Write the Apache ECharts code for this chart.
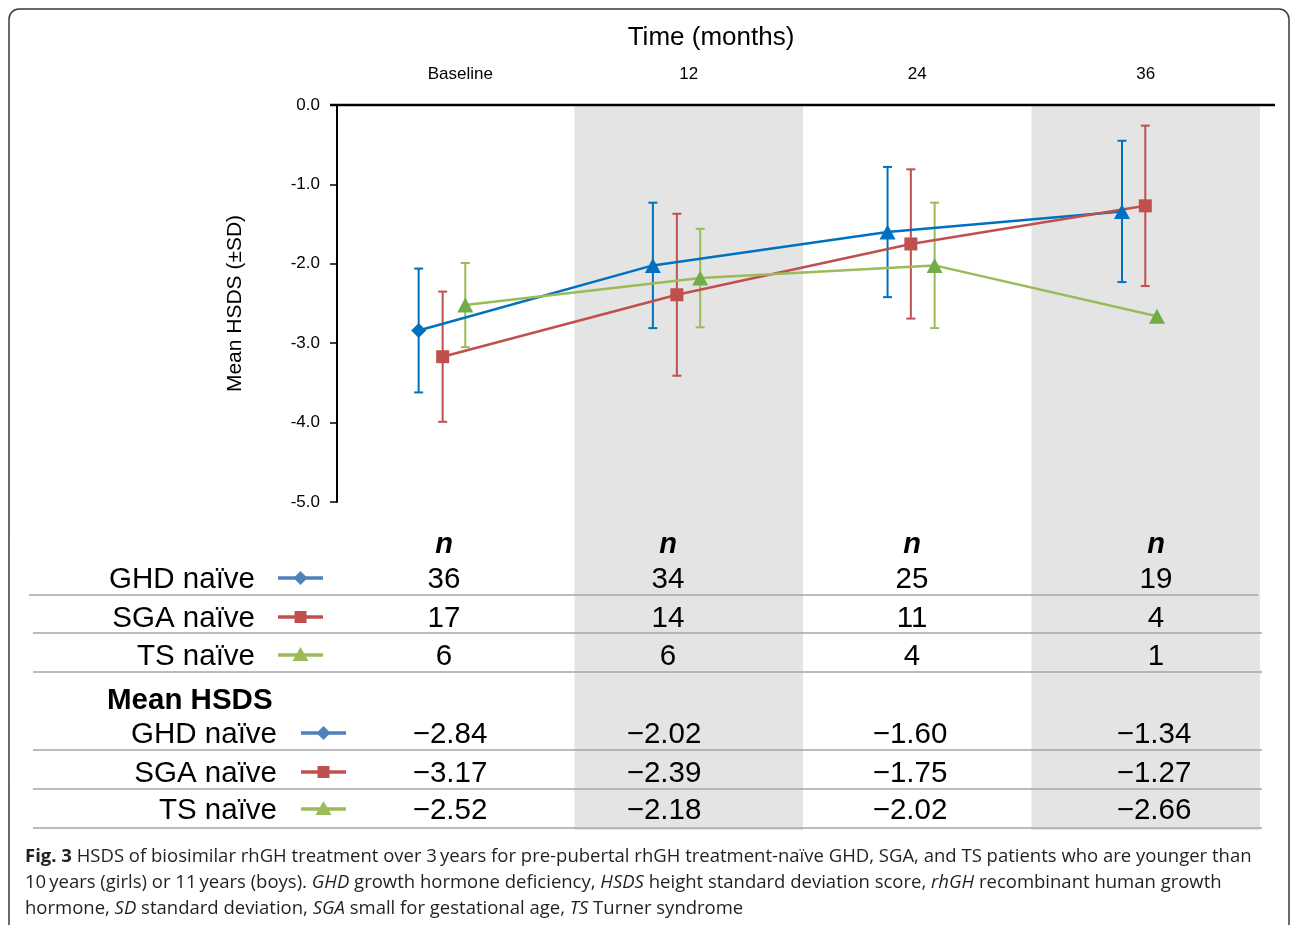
<!DOCTYPE html>
<html><head><meta charset="utf-8">
<script src="https://cdn.jsdelivr.net/npm/echarts@6/dist/echarts.min.js"></script>
<style>html,body{margin:0;padding:0;background:#fff}#c{width:1292px;height:925px}</style>
</head><body><div id="c"></div>
<script>
// ---- data ----
const categories = ['Baseline', '12', '24', '36'];
const seriesNames = ['GHD naïve', 'SGA naïve', 'TS naïve'];
const ghdMean = [-2.84, -2.02, -1.60, -1.34];
const sgaMean = [-3.17, -2.39, -1.75, -1.27];
const tsMean  = [-2.52, -2.18, -2.02, -2.66];
const ghdSD = [0.78, 0.79, 0.82, 0.89];
const sgaSD = [0.82, 1.02, 0.94, 1.01];
const tsSD  = [0.53, 0.62, 0.79, null];
const ghdN = [36, 34, 25, 19];
const sgaN = [17, 14, 11, 4];
const tsN  = [6, 6, 4, 1];
const yAxisMin = -5, yAxisMax = 0, yAxisStep = 1;

// ---- layout / style ----
const ghdOffset = [-0.182, -0.157, -0.130, -0.104];
const sgaOffset = [-0.077, -0.052, -0.028, -0.002];
const tsOffset  = [0.022, 0.050, 0.076, 0.049];
const BLUE = '#0070C0', RED = '#C0504D', GREEN_L = '#9BBB59', GREEN_M = '#70AD47';
const FONT = 'Liberation Sans, Arial, sans-serif';

const chart = echarts.init(document.getElementById('c'), null, {renderer: 'canvas'});

function lineSeries(name, mean, off, color, markColor, symbols, sizes) {
  return {
    type: 'line', name: name, xAxisIndex: 0, yAxisIndex: 0, z: 3,
    symbol: symbols[0], symbolSize: sizes[0],
    lineStyle: {color: color, width: 2.5},
    itemStyle: {color: markColor},
    data: mean.map((v, i) => ({value: [i + off[i], v], symbol: symbols[i], symbolSize: sizes[i]}))
  };
}
function errSeries(mean, sd, off, color) {
  return {
    type: 'custom', xAxisIndex: 0, yAxisIndex: 0, z: 2, silent: true,
    data: mean.map((v, i) => [i + off[i], v, sd[i] == null ? 0 : sd[i]]).filter((d, i) => sd[i] != null),
    renderItem: function (params, api) {
      const x = api.value(0), m = api.value(1), s = api.value(2);
      const hi = api.coord([x, m + s]), lo = api.coord([x, m - s]);
      const st = {stroke: color, lineWidth: 2};
      return {type: 'group', children: [
        {type: 'line', shape: {x1: hi[0], y1: hi[1], x2: lo[0], y2: lo[1]}, style: st},
        {type: 'line', shape: {x1: hi[0] - 4.5, y1: hi[1], x2: hi[0] + 4.5, y2: hi[1]}, style: st},
        {type: 'line', shape: {x1: lo[0] - 4.5, y1: lo[1], x2: lo[0] + 4.5, y2: lo[1]}, style: st}
      ]};
    }
  };
}

const tri = [16, 15];
chart.setOption({
  animation: false,
  grid: {left: 346, right: 32, top: 105, bottom: 423},
  xAxis: [
    {type: 'value', min: -0.5, max: 3.5, show: false},
    {type: 'category', data: categories, position: 'top', boundaryGap: true,
     axisLine: {show: false}, axisTick: {show: false}, splitLine: {show: false},
     axisLabel: {fontSize: 17, color: '#000', fontFamily: FONT, margin: 22}}
  ],
  yAxis: {
    type: 'value', min: yAxisMin, max: yAxisMax, interval: yAxisStep, offset: 9,
    axisLine: {show: true, onZero: false, lineStyle: {color: '#000', width: 2}},
    axisTick: {show: true, length: 7, lineStyle: {color: '#000', width: 1.5}},
    splitLine: {show: false},
    axisLabel: {formatter: v => v.toFixed(1), fontSize: 17, color: '#000', fontFamily: FONT, margin: 17},
    name: 'Mean HSDS (±SD)', nameLocation: 'middle', nameGap: 91,
    nameTextStyle: {fontSize: 21, color: '#000', fontFamily: FONT}
  },
  series: [
    errSeries(ghdMean, ghdSD, ghdOffset, BLUE),
    errSeries(sgaMean, sgaSD, sgaOffset, RED),
    errSeries(tsMean, tsSD, tsOffset, GREEN_L),
    lineSeries(seriesNames[0], ghdMean, ghdOffset, BLUE, BLUE,
      ['diamond', 'triangle', 'triangle', 'triangle'], [15, tri, tri, tri]),
    lineSeries(seriesNames[1], sgaMean, sgaOffset, RED, RED,
      ['rect', 'rect', 'rect', 'rect'], [13, 13, 13, 13]),
    lineSeries(seriesNames[2], tsMean, tsOffset, GREEN_L, GREEN_M,
      ['triangle', 'triangle', 'triangle', 'triangle'], [tri, tri, tri, tri])
  ]
});

// ---- graphics: shading, top axis line, table, caption, frame ----
const px = (x, y) => chart.convertToPixel({xAxisIndex: 0, yAxisIndex: 0}, [x, y]);
const y0 = px(0, 0)[1];
const els = [];
// frame
els.push({type: 'rect', z: 20, shape: {x: 9, y: 9, width: 1280, height: 960, r: 10},
  style: {fill: 'none', stroke: '#3a3a3a', lineWidth: 1.5}});
// shaded bands (12 and 36 months)
[1, 3].forEach(i => {
  const a = px(i - 0.5, 0)[0], b = px(i + 0.5, 0)[0];
  els.push({type: 'rect', z: -10, shape: {x: a, y: y0, width: b - a, height: 830 - y0},
    style: {fill: '#E4E4E4'}});
});
// top axis line
els.push({type: 'line', z: 10, shape: {x1: 330, y1: y0, x2: 1275, y2: y0},
  style: {stroke: '#000', lineWidth: 2.5}});

const TXT = (text, x, y, align, font, extra) => Object.assign({type: 'text', z: 10,
  style: {text: String(text), x: x, y: y, textAlign: align, textVerticalAlign: 'middle',
    font: font, fill: '#000'}}, extra || {});
// axis title
els.push(TXT('Time (months)', 711, 38, 'center', '26px ' + FONT));

const TF = '29.5px ' + FONT;
const nCols = [444, 668, 912, 1156];
const mCols = [450, 664, 910, 1154];
const fmt = v => (v < 0 ? '\u2212' : '') + Math.abs(v).toFixed(2);
const ICONCOL = ['#4F81BD', '#C0504D', '#9BBB59'];

function icon(kind, x1, x2, y, color) {
  const cx = (x1 + x2) / 2;
  els.push({type: 'line', z: 10, shape: {x1: x1, y1: y, x2: x2, y2: y}, style: {stroke: color, lineWidth: 3.5}});
  if (kind === 'diamond')
    els.push({type: 'polygon', z: 11, shape: {points: [[cx, y - 7], [cx + 7, y], [cx, y + 7], [cx - 7, y]]}, style: {fill: color}});
  else if (kind === 'rect')
    els.push({type: 'rect', z: 11, shape: {x: cx - 6, y: y - 6, width: 12, height: 12}, style: {fill: color}});
  else
    els.push({type: 'polygon', z: 11, shape: {points: [[cx, y - 8], [cx + 8, y + 6], [cx - 8, y + 6]]}, style: {fill: color}});
}
const kinds = ['diamond', 'rect', 'triangle'];

// n table
nCols.forEach(c => els.push(TXT('n', c, 545, 'center', 'italic bold 29px ' + FONT)));
const nRows = [ghdN, sgaN, tsN];
const nY = [580, 619, 657];
nRows.forEach((arr, r) => {
  els.push(TXT(seriesNames[r], 255, nY[r], 'right', TF));
  icon(kinds[r], 278, 323, nY[r] - 2, ICONCOL[r]);
  arr.forEach((v, i) => els.push(TXT(v, nCols[i], nY[r], 'center', TF)));
});
[[595, 29, 1258], [633, 33, 1262], [672, 33, 1262]].forEach(l =>
  els.push({type: 'line', z: 9, shape: {x1: l[1], y1: l[0], x2: l[2], y2: l[0]}, style: {stroke: '#A6A6A6', lineWidth: 1.5}}));

// mean table
els.push(TXT('Mean HSDS', 107, 701, 'left', 'bold 29.5px ' + FONT));
const mRows = [ghdMean, sgaMean, tsMean];
const mY = [735, 774, 811];
mRows.forEach((arr, r) => {
  els.push(TXT(seriesNames[r], 277, mY[r], 'right', TF));
  icon(kinds[r], 301, 346, mY[r] - 2, ICONCOL[r]);
  arr.forEach((v, i) => els.push(TXT(fmt(v), mCols[i], mY[r], 'center', TF)));
});
[750, 789, 828].forEach(y =>
  els.push({type: 'line', z: 9, shape: {x1: 33, y1: y, x2: 1262, y2: y}, style: {stroke: '#A6A6A6', lineWidth: 1.5}}));

// caption
const CF = 'Open Sans';
const CS = 18.5;
const rich = {
  b: {fontFamily: CF, fontSize: CS, fontWeight: 'bold', fill: '#231F20'},
  i: {fontFamily: CF, fontSize: CS, fontStyle: 'italic', fill: '#231F20'}
};
const capLines = [
  '{b|Fig. 3} HSDS of biosimilar rhGH treatment over 3\u2009years for pre-pubertal rhGH treatment-naïve GHD, SGA, and TS patients who are younger than',
  '10\u2009years (girls) or 11\u2009years (boys). {i|GHD} growth hormone deficiency, {i|HSDS} height standard deviation score, {i|rhGH} recombinant human growth',
  'hormone, {i|SD} standard deviation, {i|SGA} small for gestational age, {i|TS} Turner syndrome'
];
const capY = [857, 883, 909];
capLines.forEach((t, k) => els.push({type: 'text', z: 10, style: {
  text: t, x: 25, y: capY[k], textAlign: 'left', textVerticalAlign: 'middle',
  fontFamily: CF, fontSize: CS, fill: '#231F20', rich: rich}}));

chart.setOption({graphic: {elements: els}});
</script>
</body></html>
